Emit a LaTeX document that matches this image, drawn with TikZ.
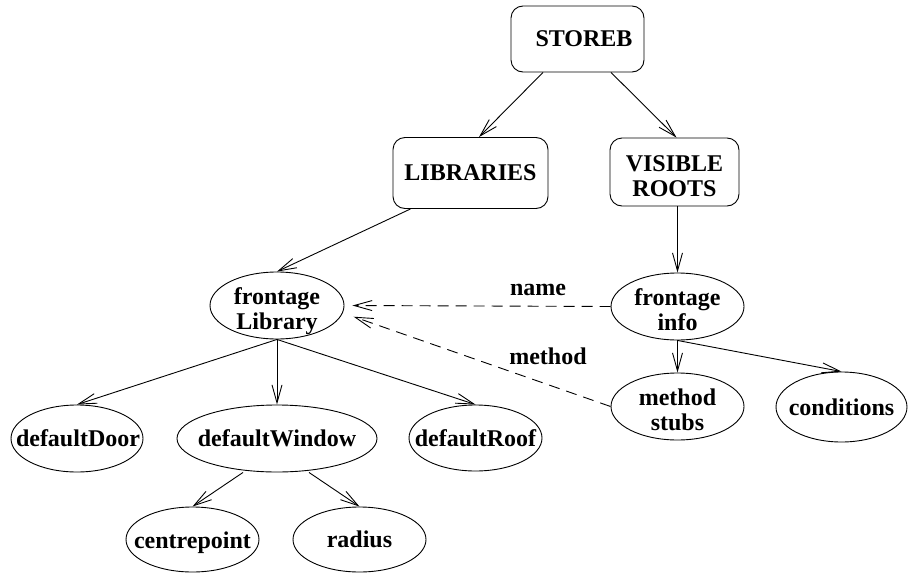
\documentclass[tikz,border=0pt]{standalone}
\usepackage{fontspec}
\setmainfont{Liberation Serif}
\usetikzlibrary{arrows.meta,shapes.geometric}
\begin{document}
\begin{tikzpicture}[x=1pt,y=-1pt,
  every node/.style={font=\fontsize{24}{25}\selectfont\bfseries, align=center},
  box/.style={draw, rounded corners=12pt, line width=0.9pt, inner sep=0pt},
  oval/.style={draw, ellipse, line width=0.9pt, inner sep=0pt},
  arr/.style={line width=0.9pt, -{Straight Barb[length=18pt,width=10pt]}},
  darr/.style={arr, dash pattern=on 11pt off 7pt},
]
\useasboundingbox (0,0) rectangle (908,573);

% boxes
\node[box, minimum width=133pt, minimum height=66pt,
  label={[xshift=6.5pt]center:STOREB}] (sb) at (577.5,39) {};
\node[box, minimum width=155pt, minimum height=71pt] (lib) at (470.5,173) {LIBRARIES};
\node[box, minimum width=129pt, minimum height=68pt,
  label={[yshift=-4.5pt]center:{VISIBLE\\ROOTS}}] (vr) at (674.5,172) {};

% ellipses
\node[oval, minimum width=134pt, minimum height=67pt,
  label={[yshift=-5.5pt]center:{frontage\\Library}}] (fl) at (277,305.5) {};
\node[oval, minimum width=133pt, minimum height=67pt,
  label={[yshift=-3.5pt]center:{frontage\\info}}] (fi) at (677.5,306.5) {};
\node[oval, minimum width=133pt, minimum height=67pt,
  label={[yshift=-3pt]center:{method\\stubs}}] (ms) at (677.5,406.5) {};
\node[oval, minimum width=131pt, minimum height=70pt,
  label={center:conditions}] (cond) at (841.5,407) {};
\node[oval, minimum width=132pt, minimum height=67pt,
  label={[xshift=1pt]center:defaultDoor}] (dd) at (77,438.5) {};
\node[oval, minimum width=200pt, minimum height=67pt,
  label={center:defaultWindow}] (dw) at (277,438.5) {};
\node[oval, minimum width=133pt, minimum height=66pt,
  label={center:defaultRoof}] (dr) at (475.5,438) {};
\node[oval, minimum width=133pt, minimum height=65pt,
  label={[yshift=-3.5pt]center:centrepoint}] (cp) at (192.5,539.5) {};
\node[oval, minimum width=133pt, minimum height=65pt,
  label={center:radius}] (rd) at (359.5,539.5) {};

% edge labels
\node (nm) at (538,290) {name};
\node (mt) at (548,356) {method};

% connectors
\draw[arr] ([xshift=-34.5pt]sb.south) -- ([xshift=8.5pt]lib.north);
\draw[arr] ([xshift=33.5pt]sb.south) -- ([xshift=2pt]vr.north);
\draw[arr] ([xshift=-60pt]lib.south) -- (fl.north);
\draw[arr] (fi.north |- vr.south) -- (fi.north);
\draw[darr] (fi.west) -- ([xshift=8pt]fl.east);
\draw[darr] (ms.west) -- ([xshift=13pt]fl.-10);
\draw[arr] (fl.south) -- (dd.north);
\draw[arr] (fl.south) -- (dw.north);
\draw[arr] (fl.south) -- (dr.north);
\draw[arr] (fi.south) -- (ms.north);
\draw[arr] (fi.south) -- (cond.north);
\draw[arr] ([xshift=-34pt]dw.south) -- (cp.north);
\draw[arr] ([xshift=32pt]dw.south) -- (rd.north);
\end{tikzpicture}
\end{document}
